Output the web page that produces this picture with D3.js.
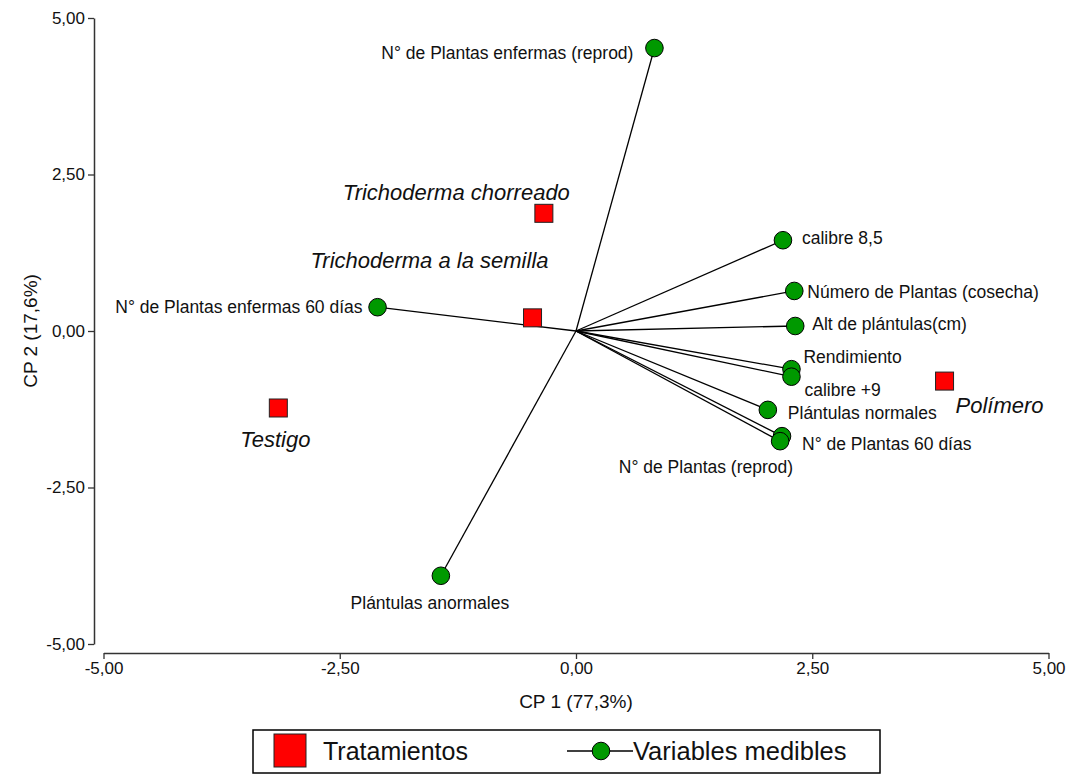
<!DOCTYPE html>
<html>
<head>
<meta charset="utf-8">
<script src="https://cdn.jsdelivr.net/npm/d3@7"></script>
<style>
  html, body { margin: 0; padding: 0; background: #fff; }
  svg { display: block; font-family: "Liberation Sans", Arial, sans-serif; }
</style>
</head>
<body>
<svg id="chart" width="1071" height="776"></svg>
<script>
// Biplot CP1 x CP2: tratamientos (cuadrados) y variables medibles (vectores)
const treatments = ["Trichoderma chorreado", "Trichoderma a la semilla", "Testigo", "Polímero"];
const treatCP1 = [-0.34, -0.46, -3.15, 3.90];
const treatCP2 = [1.88, 0.21, -1.23, -0.80];

const variables = [
  "N° de Plantas enfermas (reprod)",
  "N° de Plantas enfermas 60 días",
  "Plántulas anormales",
  "calibre 8,5",
  "Número de Plantas (cosecha)",
  "Alt de plántulas(cm)",
  "Rendimiento",
  "calibre +9",
  "Plántulas normales",
  "N° de Plantas 60 días",
  "N° de Plantas (reprod)"
];
const varCP1 = [0.83, -2.10, -1.43, 2.19, 2.31, 2.32, 2.28, 2.28, 2.03, 2.18, 2.16];
const varCP2 = [4.52, 0.38, -3.91, 1.45, 0.64, 0.08, -0.61, -0.73, -1.26, -1.68, -1.76];

const tickValues = [-5, -2.5, 0, 2.5, 5];
const xTitle = "CP 1 (77,3%)";
const yTitle = "CP 2 (17,6%)";
const legendLabels = ["Tratamientos", "Variables medibles"];

// label placement (pixel offsets from the marker, text anchor)
const treatLabelPlace = [
  { dx: 26, dy: -21, anchor: "end" },
  { dx: 16, dy: -57, anchor: "end" },
  { dx: -3, dy: 32, anchor: "middle" },
  { dx: 11, dy: 24, anchor: "start" }
];
const varLabelPlace = [
  { dx: -21, dy: 5, anchor: "end" },
  { dx: -15, dy: 0, anchor: "end" },
  { dx: -11, dy: 27, anchor: "middle" },
  { dx: 19, dy: -2, anchor: "start" },
  { dx: 13, dy: 1, anchor: "start" },
  { dx: 17, dy: -2, anchor: "start" },
  { dx: 12, dy: -12, anchor: "start" },
  { dx: 13, dy: 13, anchor: "start" },
  { dx: 20, dy: 3, anchor: "start" },
  { dx: 20, dy: 8, anchor: "start" },
  { dx: 13, dy: 26, anchor: "end" }
];

const svg = d3.select("#chart");
const fmt = v => d3.format(".2f")(v).replace(".", ",").replace("−", "-");

const x = d3.scaleLinear().domain([-5, 5]).range([103.5, 1048.5]);
const y = d3.scaleLinear().domain([-5, 5]).range([644, 18]);

const axisColor = "#333";

// X axis (detached below the plot)
const xAxisG = svg.append("g")
  .attr("transform", "translate(0,653)")
  .call(d3.axisBottom(x).tickValues(tickValues).tickFormat(fmt).tickSize(6).tickSizeOuter(0).tickPadding(3));
// Y axis (detached to the left)
const yAxisG = svg.append("g")
  .attr("transform", "translate(94,0)")
  .call(d3.axisLeft(y).tickValues(tickValues).tickFormat(fmt).tickSize(6).tickSizeOuter(0).tickPadding(3));

[xAxisG, yAxisG].forEach(g => {
  g.select(".domain").attr("stroke", axisColor).attr("stroke-width", 1.5);
  g.selectAll(".tick line").attr("stroke", axisColor).attr("stroke-width", 1.3);
  g.selectAll(".tick text").attr("fill", "#111").style("font-size", "17px")
    .style("font-family", "'Liberation Sans', Arial, sans-serif");
});

// Axis titles
svg.append("text")
  .attr("x", x(0)).attr("y", 708)
  .attr("text-anchor", "middle")
  .style("font-size", "19px").attr("fill", "#111")
  .text(xTitle);
svg.append("text")
  .attr("transform", `translate(30,${y(0)}) rotate(-90)`)
  .attr("text-anchor", "middle")
  .attr("dominant-baseline", "central")
  .style("font-size", "19px").attr("fill", "#111")
  .text(yTitle);

// Vectors from the origin to each variable
const vars = variables.map((name, i) => ({ name, cp1: varCP1[i], cp2: varCP2[i], place: varLabelPlace[i] }));
const treats = treatments.map((name, i) => ({ name, cp1: treatCP1[i], cp2: treatCP2[i], place: treatLabelPlace[i] }));

svg.append("g").selectAll("line").data(vars).join("line")
  .attr("x1", x(0)).attr("y1", y(0))
  .attr("x2", d => x(d.cp1)).attr("y2", d => y(d.cp2))
  .attr("stroke", "#000").attr("stroke-width", 1.3);

// Treatments
const sq = 18;
svg.append("g").selectAll("rect").data(treats).join("rect")
  .attr("x", d => x(d.cp1) - sq / 2).attr("y", d => y(d.cp2) - sq / 2)
  .attr("width", sq).attr("height", sq)
  .attr("fill", "#ff0000").attr("stroke", "#222").attr("stroke-width", 1);

svg.append("g").selectAll("text").data(treats).join("text")
  .attr("x", d => x(d.cp1) + d.place.dx)
  .attr("y", d => y(d.cp2) + d.place.dy)
  .attr("text-anchor", d => d.place.anchor)
  .attr("dominant-baseline", "central")
  .style("font-size", "22px").style("font-style", "italic").attr("fill", "#111")
  .text(d => d.name);

// Variable markers
svg.append("g").selectAll("circle").data(vars).join("circle")
  .attr("cx", d => x(d.cp1)).attr("cy", d => y(d.cp2))
  .attr("r", 8.8)
  .attr("fill", "#009900").attr("stroke", "#000").attr("stroke-width", 1);

svg.append("g").selectAll("text").data(vars).join("text")
  .attr("x", d => x(d.cp1) + d.place.dx)
  .attr("y", d => y(d.cp2) + d.place.dy)
  .attr("text-anchor", d => d.place.anchor)
  .attr("dominant-baseline", "central")
  .style("font-size", "17.5px").attr("fill", "#111")
  .text(d => d.name);

// Legend
const lg = svg.append("g");
lg.append("rect").attr("x", 253).attr("y", 730).attr("width", 627).attr("height", 43)
  .attr("fill", "#fff").attr("stroke", "#000").attr("stroke-width", 1.5);
lg.append("rect").attr("x", 274).attr("y", 734).attr("width", 32).attr("height", 33)
  .attr("fill", "#ff0000").attr("stroke", "#222").attr("stroke-width", 1);
lg.append("text").attr("x", 323).attr("y", 751).attr("dominant-baseline", "central")
  .style("font-size", "25px").attr("fill", "#111").text(legendLabels[0]);
lg.append("line").attr("x1", 567).attr("x2", 633).attr("y1", 751).attr("y2", 751)
  .attr("stroke", "#000").attr("stroke-width", 1.3);
lg.append("circle").attr("cx", 601).attr("cy", 751).attr("r", 8.8)
  .attr("fill", "#009900").attr("stroke", "#000").attr("stroke-width", 1);
lg.append("text").attr("x", 633).attr("y", 751).attr("dominant-baseline", "central")
  .style("font-size", "25.5px").attr("fill", "#111").text(legendLabels[1]);
</script>
</body>
</html>
